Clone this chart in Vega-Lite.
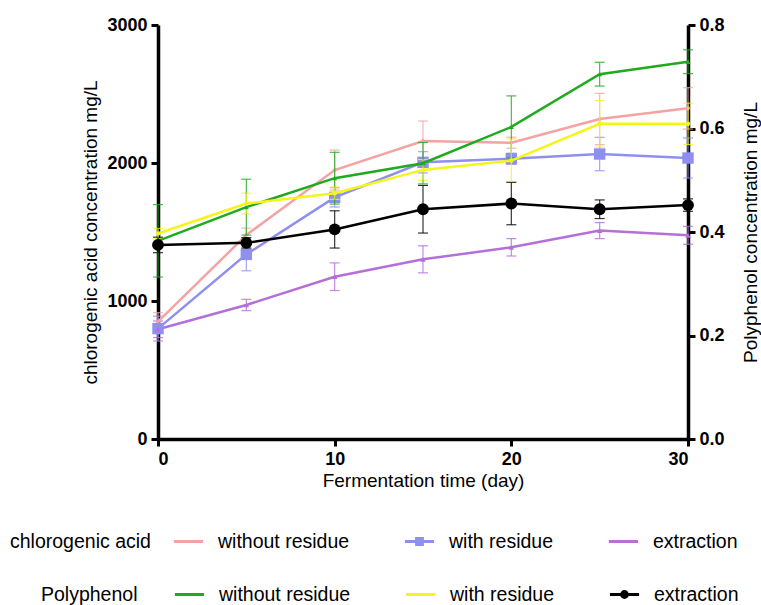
{
  "$schema": "https://vega.github.io/schema/vega-lite/v6.json",
  "width": 530,
  "height": 414,
  "autosize": "none",
  "padding": {"left": 158, "top": 25, "right": 73, "bottom": 166},
  "background": "white",
  "config": {
    "font": "Liberation Sans",
    "view": {"stroke": null},
    "axis": {
      "grid": false,
      "domainColor": "black",
      "domainWidth": 3.5,
      "tickColor": "black",
      "tickWidth": 3,
      "tickSize": 7,
      "labelFont": "Liberation Sans",
      "labelFontSize": 18,
      "labelFontWeight": "bold",
      "labelColor": "black",
      "labelPadding": 4,
      "titleFont": "Liberation Sans",
      "titleFontSize": 19,
      "titleFontWeight": "normal",
      "titleColor": "black"
    },
    "legend": {
      "labelFont": "Liberation Sans",
      "labelFontSize": 19.5,
      "labelColor": "black",
      "titleFont": "Liberation Sans",
      "titleFontSize": 19.5,
      "titleFontWeight": "normal",
      "titleColor": "black",
      "titleLimit": 300,
      "labelLimit": 300
    }
  },
  "datasets": {
    "cga": [
      {"day": 0, "series": "without residue", "value": 850, "err": 65},
      {"day": 5, "series": "without residue", "value": 1478, "err": 50},
      {"day": 10, "series": "without residue", "value": 1949, "err": 145},
      {"day": 15, "series": "without residue", "value": 2159, "err": 145},
      {"day": 20, "series": "without residue", "value": 2147, "err": 40},
      {"day": 25, "series": "without residue", "value": 2319, "err": 186},
      {"day": 30, "series": "without residue", "value": 2396, "err": 150},
      {"day": 0, "series": "with residue", "value": 800, "err": 90},
      {"day": 5, "series": "with residue", "value": 1338, "err": 119},
      {"day": 10, "series": "with residue", "value": 1751, "err": 70},
      {"day": 15, "series": "with residue", "value": 2005, "err": 77},
      {"day": 20, "series": "with residue", "value": 2031, "err": 40},
      {"day": 25, "series": "with residue", "value": 2065, "err": 121},
      {"day": 30, "series": "with residue", "value": 2036, "err": 145},
      {"day": 0, "series": "extraction", "value": 795, "err": 60},
      {"day": 5, "series": "extraction", "value": 971, "err": 41},
      {"day": 10, "series": "extraction", "value": 1176, "err": 100},
      {"day": 15, "series": "extraction", "value": 1302, "err": 98},
      {"day": 20, "series": "extraction", "value": 1389, "err": 63},
      {"day": 25, "series": "extraction", "value": 1510, "err": 58},
      {"day": 30, "series": "extraction", "value": 1476, "err": 65}
    ],
    "poly": [
      {"day": 0, "series": "without residue", "value": 0.383, "err": 0.07},
      {"day": 5, "series": "without residue", "value": 0.448, "err": 0.054},
      {"day": 10, "series": "without residue", "value": 0.504, "err": 0.05},
      {"day": 15, "series": "without residue", "value": 0.533, "err": 0.04},
      {"day": 20, "series": "without residue", "value": 0.603, "err": 0.06},
      {"day": 25, "series": "without residue", "value": 0.705, "err": 0.023},
      {"day": 30, "series": "without residue", "value": 0.729, "err": 0.023},
      {"day": 0, "series": "with residue", "value": 0.397, "err": 0.01},
      {"day": 5, "series": "with residue", "value": 0.455, "err": 0.02},
      {"day": 10, "series": "with residue", "value": 0.475, "err": 0.012},
      {"day": 15, "series": "with residue", "value": 0.52, "err": 0.02},
      {"day": 20, "series": "with residue", "value": 0.538, "err": 0.042},
      {"day": 25, "series": "with residue", "value": 0.609, "err": 0.045},
      {"day": 30, "series": "with residue", "value": 0.609, "err": 0.04},
      {"day": 0, "series": "extraction", "value": 0.375, "err": 0.015},
      {"day": 5, "series": "extraction", "value": 0.379, "err": 0.01},
      {"day": 10, "series": "extraction", "value": 0.405, "err": 0.036},
      {"day": 15, "series": "extraction", "value": 0.444, "err": 0.046},
      {"day": 20, "series": "extraction", "value": 0.455, "err": 0.041},
      {"day": 25, "series": "extraction", "value": 0.444, "err": 0.018},
      {"day": 30, "series": "extraction", "value": 0.452, "err": 0.012}
    ]
  },
  "encoding": {
    "x": {
      "field": "day",
      "type": "quantitative",
      "scale": {"domain": [0, 30], "nice": false},
      "axis": {"values": [0, 10, 20, 30], "title": "Fermentation time (day)", "titlePadding": 3}
    }
  },
  "layer": [
    {
      "data": {"name": "cga"},
      "encoding": {
        "y": {
          "field": "value",
          "type": "quantitative",
          "scale": {"domain": [0, 3000], "nice": false},
          "axis": {"orient": "left", "values": [0, 1000, 2000, 3000], "format": "d", "title": "chlorogenic acid concentration mg/L", "titlePadding": 6}
        },
        "color": {
          "field": "series",
          "type": "nominal",
          "scale": {"domain": ["without residue", "with residue", "extraction"], "range": ["#f4a3a3", "#8f8ff2", "#b56fd8"]},
          "legend": {
            "title": "chlorogenic acid",
            "orient": "none",
            "legendX": -148,
            "legendY": 500,
            "direction": "horizontal",
            "columns": 3,
            "columnPadding": 48,
            "titleOrient": "left",
            "titleAnchor": "middle",
            "titleBaseline": "middle",
            "titlePadding": 21,
            "symbolType": "stroke",
            "symbolSize": 850,
            "symbolStrokeWidth": 3,
            "labelOffset": 13,
            "encode": {
              "title": {"update": {"dy": {"value": 4}}},
              "symbols": {
                "update": {
                  "shape": [
                    {"test": "datum.value === 'with residue'", "value": "M-1,0H1M-0.2,-0.2H0.2V0.2H-0.2Z"},
                    {"value": "M-1,0H1"}
                  ]
                }
              }
            }
          }
        }
      },
      "layer": [
        {
          "mark": {"type": "errorbar", "ticks": {"size": 10}, "thickness": 1.2, "opacity": 0.8},
          "encoding": {"yError": {"field": "err"}}
        },
        {"mark": {"type": "line", "strokeWidth": 2.5}},
        {
          "transform": [{"filter": "datum.series === 'without residue'"}],
          "mark": {"type": "point", "filled": true, "opacity": 1, "shape": "diamond", "size": 25}
        },
        {
          "transform": [{"filter": "datum.series === 'with residue'"}],
          "mark": {"type": "point", "filled": true, "opacity": 1, "shape": "square", "size": 130}
        },
        {
          "transform": [{"filter": "datum.series === 'extraction'"}],
          "mark": {"type": "point", "filled": true, "opacity": 1, "shape": "triangle-up", "size": 30}
        }
      ]
    },
    {
      "data": {"name": "poly"},
      "encoding": {
        "y": {
          "field": "value",
          "type": "quantitative",
          "scale": {"domain": [0, 0.8], "nice": false},
          "axis": {"orient": "right", "values": [0, 0.2, 0.4, 0.6, 0.8], "format": ".1f", "title": "Polyphenol concentration mg/L", "titleAngle": 270, "titlePadding": 36}
        },
        "color": {
          "field": "series",
          "type": "nominal",
          "scale": {"domain": ["without residue", "with residue", "extraction"], "range": ["#1faa1f", "#f5f51a", "#000000"]},
          "legend": {
            "title": "Polyphenol",
            "orient": "none",
            "legendX": -117,
            "legendY": 553,
            "direction": "horizontal",
            "columns": 3,
            "columnPadding": 48,
            "titleOrient": "left",
            "titleAnchor": "middle",
            "titleBaseline": "middle",
            "titlePadding": 35,
            "symbolType": "stroke",
            "symbolSize": 850,
            "symbolStrokeWidth": 3,
            "labelOffset": 13,
            "encode": {
              "title": {"update": {"dy": {"value": 4}}},
              "symbols": {
                "update": {
                  "shape": [
                    {"test": "datum.value === 'extraction'", "value": "M-1,0H1M0.2,0A0.2,0.2 0 1,1 -0.2,0A0.2,0.2 0 1,1 0.2,0"},
                    {"value": "M-1,0H1"}
                  ]
                }
              }
            }
          }
        }
      },
      "layer": [
        {
          "mark": {"type": "errorbar", "ticks": {"size": 10}, "thickness": 1.2, "opacity": 0.8},
          "encoding": {"yError": {"field": "err"}}
        },
        {"mark": {"type": "line", "strokeWidth": 2.5}},
        {
          "transform": [{"filter": "datum.series === 'without residue'"}],
          "mark": {"type": "point", "filled": true, "opacity": 1, "shape": "triangle-up", "size": 25}
        },
        {
          "transform": [{"filter": "datum.series === 'with residue'"}],
          "mark": {"type": "point", "filled": true, "opacity": 1, "shape": "circle", "size": 20}
        },
        {
          "transform": [{"filter": "datum.series === 'extraction'"}],
          "mark": {"type": "point", "filled": true, "opacity": 1, "shape": "circle", "size": 140}
        }
      ]
    }
  ],
  "resolve": {"scale": {"y": "independent", "color": "independent"}, "axis": {"y": "independent"}}
}
